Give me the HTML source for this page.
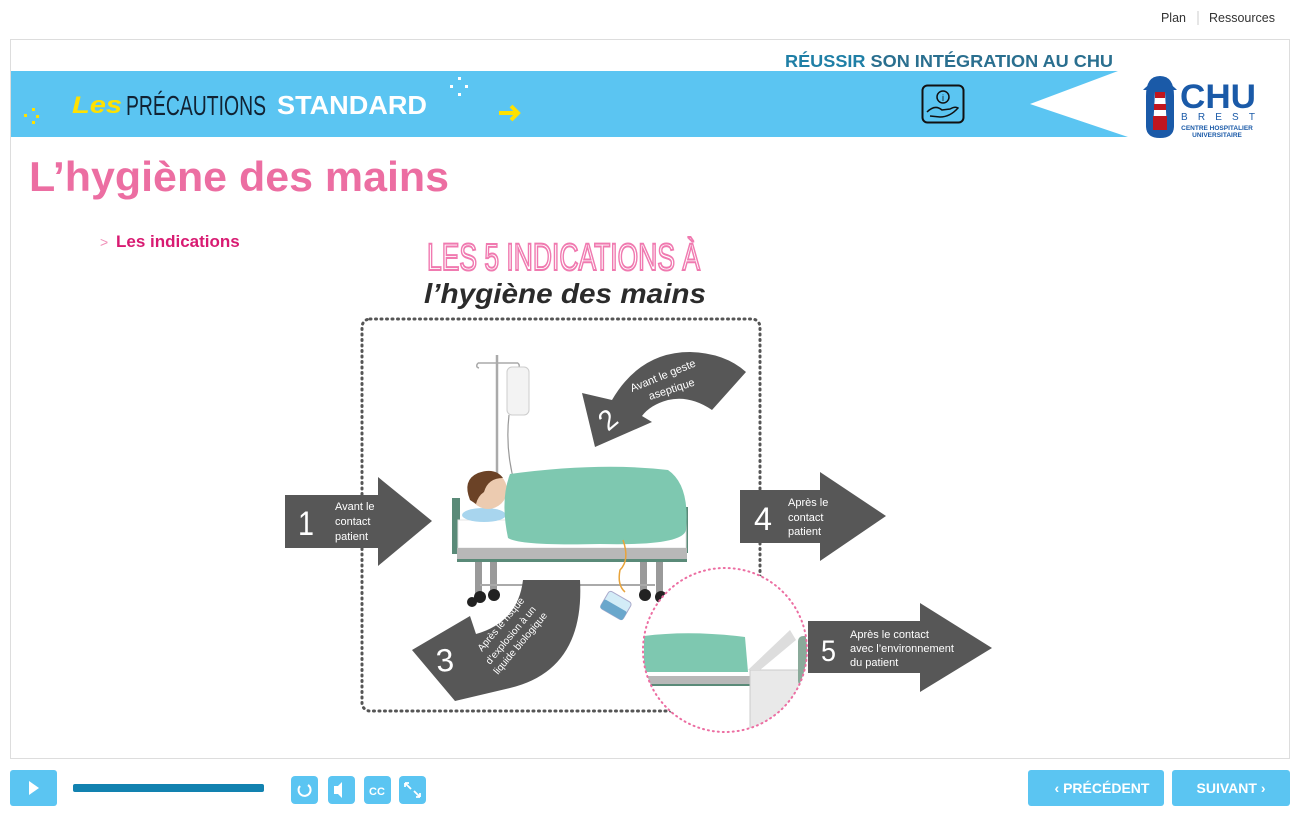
<!DOCTYPE html>
<html><head><meta charset="utf-8"><style>
html,body{margin:0;padding:0;background:#fff;width:1300px;height:813px;overflow:hidden;font-family:"Liberation Sans",sans-serif}
</style></head><body>
<svg width="1300" height="813" viewBox="0 0 1300 813" xmlns="http://www.w3.org/2000/svg" font-family="Liberation Sans, sans-serif">
<text x="1186" y="22" font-size="12.5" fill="#333" text-anchor="end">Plan</text>
<line x1="1198" y1="11" x2="1198" y2="25" stroke="#ccc"/>
<text x="1209" y="22" font-size="12.5" fill="#333">Ressources</text>
<rect x="10.5" y="39.5" width="1279" height="719" fill="#fff" stroke="#ddd"/>
<polygon points="11,71 1118,71 1030,104 1128,137 11,137" fill="#5bc5f2"/>
<text x="785" y="67" font-size="17.5" font-weight="bold" fill="#1f7fa6" textLength="328" lengthAdjust="spacingAndGlyphs">RÉUSSIR <tspan fill="#2a6f8f">SON INTÉGRATION AU CHU</tspan></text>
<text x="72" y="113" font-size="24" font-style="italic" font-weight="bold" fill="#ffe100" textLength="50" lengthAdjust="spacingAndGlyphs">Les</text>
<text x="126" y="115" font-size="28" fill="#123" textLength="140" lengthAdjust="spacingAndGlyphs">PRÉCAUTIONS</text>
<text x="277" y="114" font-size="26" font-weight="bold" fill="#fff" textLength="150" lengthAdjust="spacingAndGlyphs">STANDARD</text>
<g fill="#ffe100"><rect x="24" y="114" width="3" height="3"/><rect x="32" y="108" width="3" height="3"/><rect x="36" y="115" width="3" height="3"/><rect x="32" y="121" width="3" height="3"/></g>
<g fill="#fff"><rect x="458" y="77" width="3" height="3"/><rect x="450" y="85" width="3" height="3"/><rect x="465" y="85" width="3" height="3"/><rect x="458" y="93" width="3" height="3"/></g>
<path d="M499,113 L517,113 M511,106 L518,113 L511,120" stroke="#ffe100" stroke-width="4" fill="none"/>
<rect x="922.5" y="85.5" width="41" height="37" rx="5" fill="none" stroke="#111" stroke-width="2"/>
<circle cx="943" cy="97" r="6" fill="none" stroke="#111" stroke-width="1.5"/>
<text x="943" y="101" font-size="9" text-anchor="middle" fill="#111">i</text>
<path d="M927,112 Q935,104 942,110 L950,109 Q955,106 958,108 Q950,117 940,117 L930,116" fill="none" stroke="#111" stroke-width="1.5"/>
<path d="M1146,96 Q1146,76 1160,76 Q1174,76 1174,96 L1174,126 Q1174,138 1160,138 Q1146,138 1146,126 Z" fill="#1a5aa8"/>
<path d="M1143,90 Q1160,72 1177,90 Z" fill="#1a5aa8"/>
<polygon points="1155,92 1165,92 1167,130 1153,130" fill="#fff"/>
<g fill="#c0161f"><rect x="1155" y="92" width="10" height="6"/><rect x="1154" y="104" width="12" height="6"/><polygon points="1153,116 1167,116 1167,130 1153,130"/></g>
<text x="1180" y="108" font-size="34" font-weight="bold" fill="#1a5aa8" textLength="76" lengthAdjust="spacingAndGlyphs">CHU</text>
<text x="1181" y="120" font-size="10" fill="#1a5aa8" textLength="74" lengthAdjust="spacing">BREST</text>
<text x="1217" y="130" font-size="6.5" font-weight="bold" fill="#1a5aa8" text-anchor="middle">CENTRE HOSPITALIER</text>
<text x="1217" y="137" font-size="6.5" font-weight="bold" fill="#1a5aa8" text-anchor="middle">UNIVERSITAIRE</text>
<text x="29" y="191" font-size="42" font-weight="bold" fill="#ec6ea2" textLength="420" lengthAdjust="spacingAndGlyphs">L’hygiène des mains</text>
<text x="100" y="247" font-size="14" fill="#f08fb8">&gt;</text>
<text x="116" y="247" font-size="17" font-weight="bold" fill="#d81b72">Les indications</text>
<text x="427" y="270" font-size="38" fill="#fff" stroke="#f07ab0" stroke-width="2" textLength="273" lengthAdjust="spacingAndGlyphs">LES 5 INDICATIONS À</text>
<text x="424" y="303" font-size="28" font-weight="bold" font-style="italic" fill="#2b2b2b" textLength="282" lengthAdjust="spacingAndGlyphs">l’hygiène des mains</text>
<rect x="362" y="319" width="398" height="392" rx="8" fill="none" stroke="#555" stroke-width="3" stroke-dasharray="1 4.5" stroke-linecap="round"/>
<line x1="497" y1="355" x2="497" y2="480" stroke="#aaa" stroke-width="2.5"/>
<path d="M478,363 L518,363 M478,363 q-3,4 1,5 M518,363 q3,4 -1,5" stroke="#aaa" stroke-width="1.5" fill="none"/>
<rect x="507" y="367" width="22" height="48" rx="5" fill="#f3f3f3" stroke="#ccc"/>
<path d="M509,415 Q505,450 515,485" stroke="#999" fill="none" stroke-width="1.2"/>
<rect x="452" y="498" width="8" height="56" fill="#5a8a78"/>
<rect x="680" y="507" width="8" height="46" fill="#5a8a78"/>
<path d="M458,520 L686,520 L686,548 L458,548 Z" fill="#fff" stroke="#e5e5e5"/>
<ellipse cx="484" cy="515" rx="22" ry="7" fill="#a8d5ee"/>
<rect x="457" y="548" width="230" height="11" fill="#b8b8b8"/>
<rect x="457" y="559" width="230" height="3" fill="#5a8a78"/>
<g fill="#9a9a9a"><rect x="475" y="562" width="7" height="32"/><rect x="490" y="562" width="7" height="30"/><rect x="640" y="562" width="7" height="30"/><rect x="656" y="562" width="7" height="32"/></g>
<line x1="480" y1="585" x2="655" y2="585" stroke="#aaa" stroke-width="2"/>
<g fill="#222"><circle cx="472" cy="602" r="5"/><circle cx="480" cy="597" r="6"/><circle cx="494" cy="595" r="6"/><circle cx="645" cy="595" r="6"/><circle cx="661" cy="597" r="6"/></g>
<circle cx="488" cy="490" r="19" fill="#eccbb0"/>
<path d="M470,500 Q462,480 478,473 Q495,467 503,478 Q488,478 484,492 Q478,496 476,504 Z" fill="#6b4226"/>
<path d="M510,474 Q600,462 668,470 Q690,485 686,530 Q683,546 600,544 Q520,546 508,538 Q500,500 510,474 Z" fill="#7ec8b0"/>
<path d="M623,540 Q630,560 620,570 Q617,585 625,592" stroke="#e8a33a" stroke-width="1.5" fill="none"/>
<g transform="translate(615,605) rotate(30)"><rect x="-12" y="-10" width="26" height="20" rx="3" fill="#d3ecf7" stroke="#aac"/><rect x="-12" y="0" width="26" height="10" rx="2" fill="#6aa7cc"/></g>
<g fill="#575757">
<polygon points="285,495 378,495 378,477 432,521 378,566 378,548 285,548"/>
<polygon points="740,490 820,490 820,472 886,516 820,561 820,543 740,543"/>
<polygon points="808,621 920,621 920,603 992,648 920,692 920,673 808,673"/>
<path d="M582,393 L612,400 Q640,352 690,352 Q725,353 746,372 L712,410 Q690,395 668,400 Q650,405 642,416 L652,422 L595,447 Z"/>
<path d="M523,580 L580,580 Q585,670 510,688 L455,701 L412,650 L470,616 L476,634 Q518,622 523,580 Z"/>
</g>
<g fill="#fff" font-size="11">
<text x="298" y="535" font-size="34" textLength="16" lengthAdjust="spacingAndGlyphs">1</text>
<text x="335" y="510">Avant le</text><text x="335" y="525">contact</text><text x="335" y="540">patient</text>
<text x="754" y="530" font-size="32" textLength="18" lengthAdjust="spacingAndGlyphs">4</text>
<text x="788" y="506">Après le</text><text x="788" y="521">contact</text><text x="788" y="535">patient</text>
<text x="821" y="661" font-size="30" textLength="15" lengthAdjust="spacingAndGlyphs">5</text>
<text x="850" y="638">Après le contact</text><text x="850" y="652">avec l’environnement</text><text x="850" y="666">du patient</text>
<text transform="translate(608,432) rotate(-40)" font-size="28">2</text>
<text transform="translate(632,392) rotate(-22)" font-size="11">Avant le geste</text>
<text transform="translate(650,400) rotate(-18)" font-size="11">aseptique</text>
<text transform="translate(437,672) rotate(-5)" font-size="32">3</text>
<text transform="translate(482,652) rotate(-50)" font-size="10">Après le risque</text>
<text transform="translate(490,665) rotate(-50)" font-size="10">d’explosion à un</text>
<text transform="translate(498,675) rotate(-50)" font-size="10">liquide biologique</text>
</g>
<circle cx="725" cy="650" r="82" fill="#fff"/>
<clipPath id="c"><circle cx="725" cy="650" r="82"/></clipPath>
<g clip-path="url(#c)">
<path d="M644,636 Q690,630 745,637 L748,672 L644,672 Z" fill="#7ec8b0"/>
<rect x="644" y="676" width="110" height="8" fill="#b8b8b8"/>
<rect x="644" y="684" width="110" height="2" fill="#5a8a78"/>
<rect x="750" y="670" width="60" height="70" fill="#e9e9e9" stroke="#ccc"/>
<path d="M748,670 L790,630 L796,640 L760,670 Z" fill="#ddd"/>
<rect x="798" y="636" width="12" height="50" rx="5" fill="#8aaa9a"/>
</g>
<circle cx="725" cy="650" r="82" fill="none" stroke="#ec6ea2" stroke-width="2" stroke-dasharray="1 4" stroke-linecap="round"/>
<rect x="10" y="770" width="47" height="36" rx="3" fill="#5bc5f2"/>
<polygon points="29,781 29,795 39,788" fill="#fff"/>
<rect x="73" y="784" width="191" height="8" rx="2" fill="#1282b0"/>
<g fill="#5bc5f2"><rect x="291" y="776" width="27" height="28" rx="4"/><rect x="328" y="776" width="27" height="28" rx="4"/><rect x="364" y="776" width="27" height="28" rx="4"/><rect x="399" y="776" width="27" height="28" rx="4"/></g>
<path d="M300,786 a6,6 0 1 0 8,-1" stroke="#fff" stroke-width="2" fill="none"/>
<polygon points="334,786 338,786 342,782 342,798 338,794 334,794" fill="#fff"/>
<text x="377" y="795" font-size="11" font-weight="bold" fill="#fff" text-anchor="middle">CC</text>
<path d="M405,783 L411,789 M405,783 L405,787 M405,783 L409,783 M420,797 L414,791 M420,797 L420,793 M420,797 L416,797" stroke="#fff" stroke-width="1.8"/>
<rect x="1028" y="770" width="136" height="36" rx="3" fill="#5bc5f2"/>
<rect x="1172" y="770" width="118" height="36" rx="3" fill="#5bc5f2"/>
<text x="1102" y="793" font-size="14" font-weight="bold" fill="#fff" text-anchor="middle">‹ PRÉCÉDENT</text>
<text x="1231" y="793" font-size="14" font-weight="bold" fill="#fff" text-anchor="middle">SUIVANT ›</text>
</svg>
</body></html>
